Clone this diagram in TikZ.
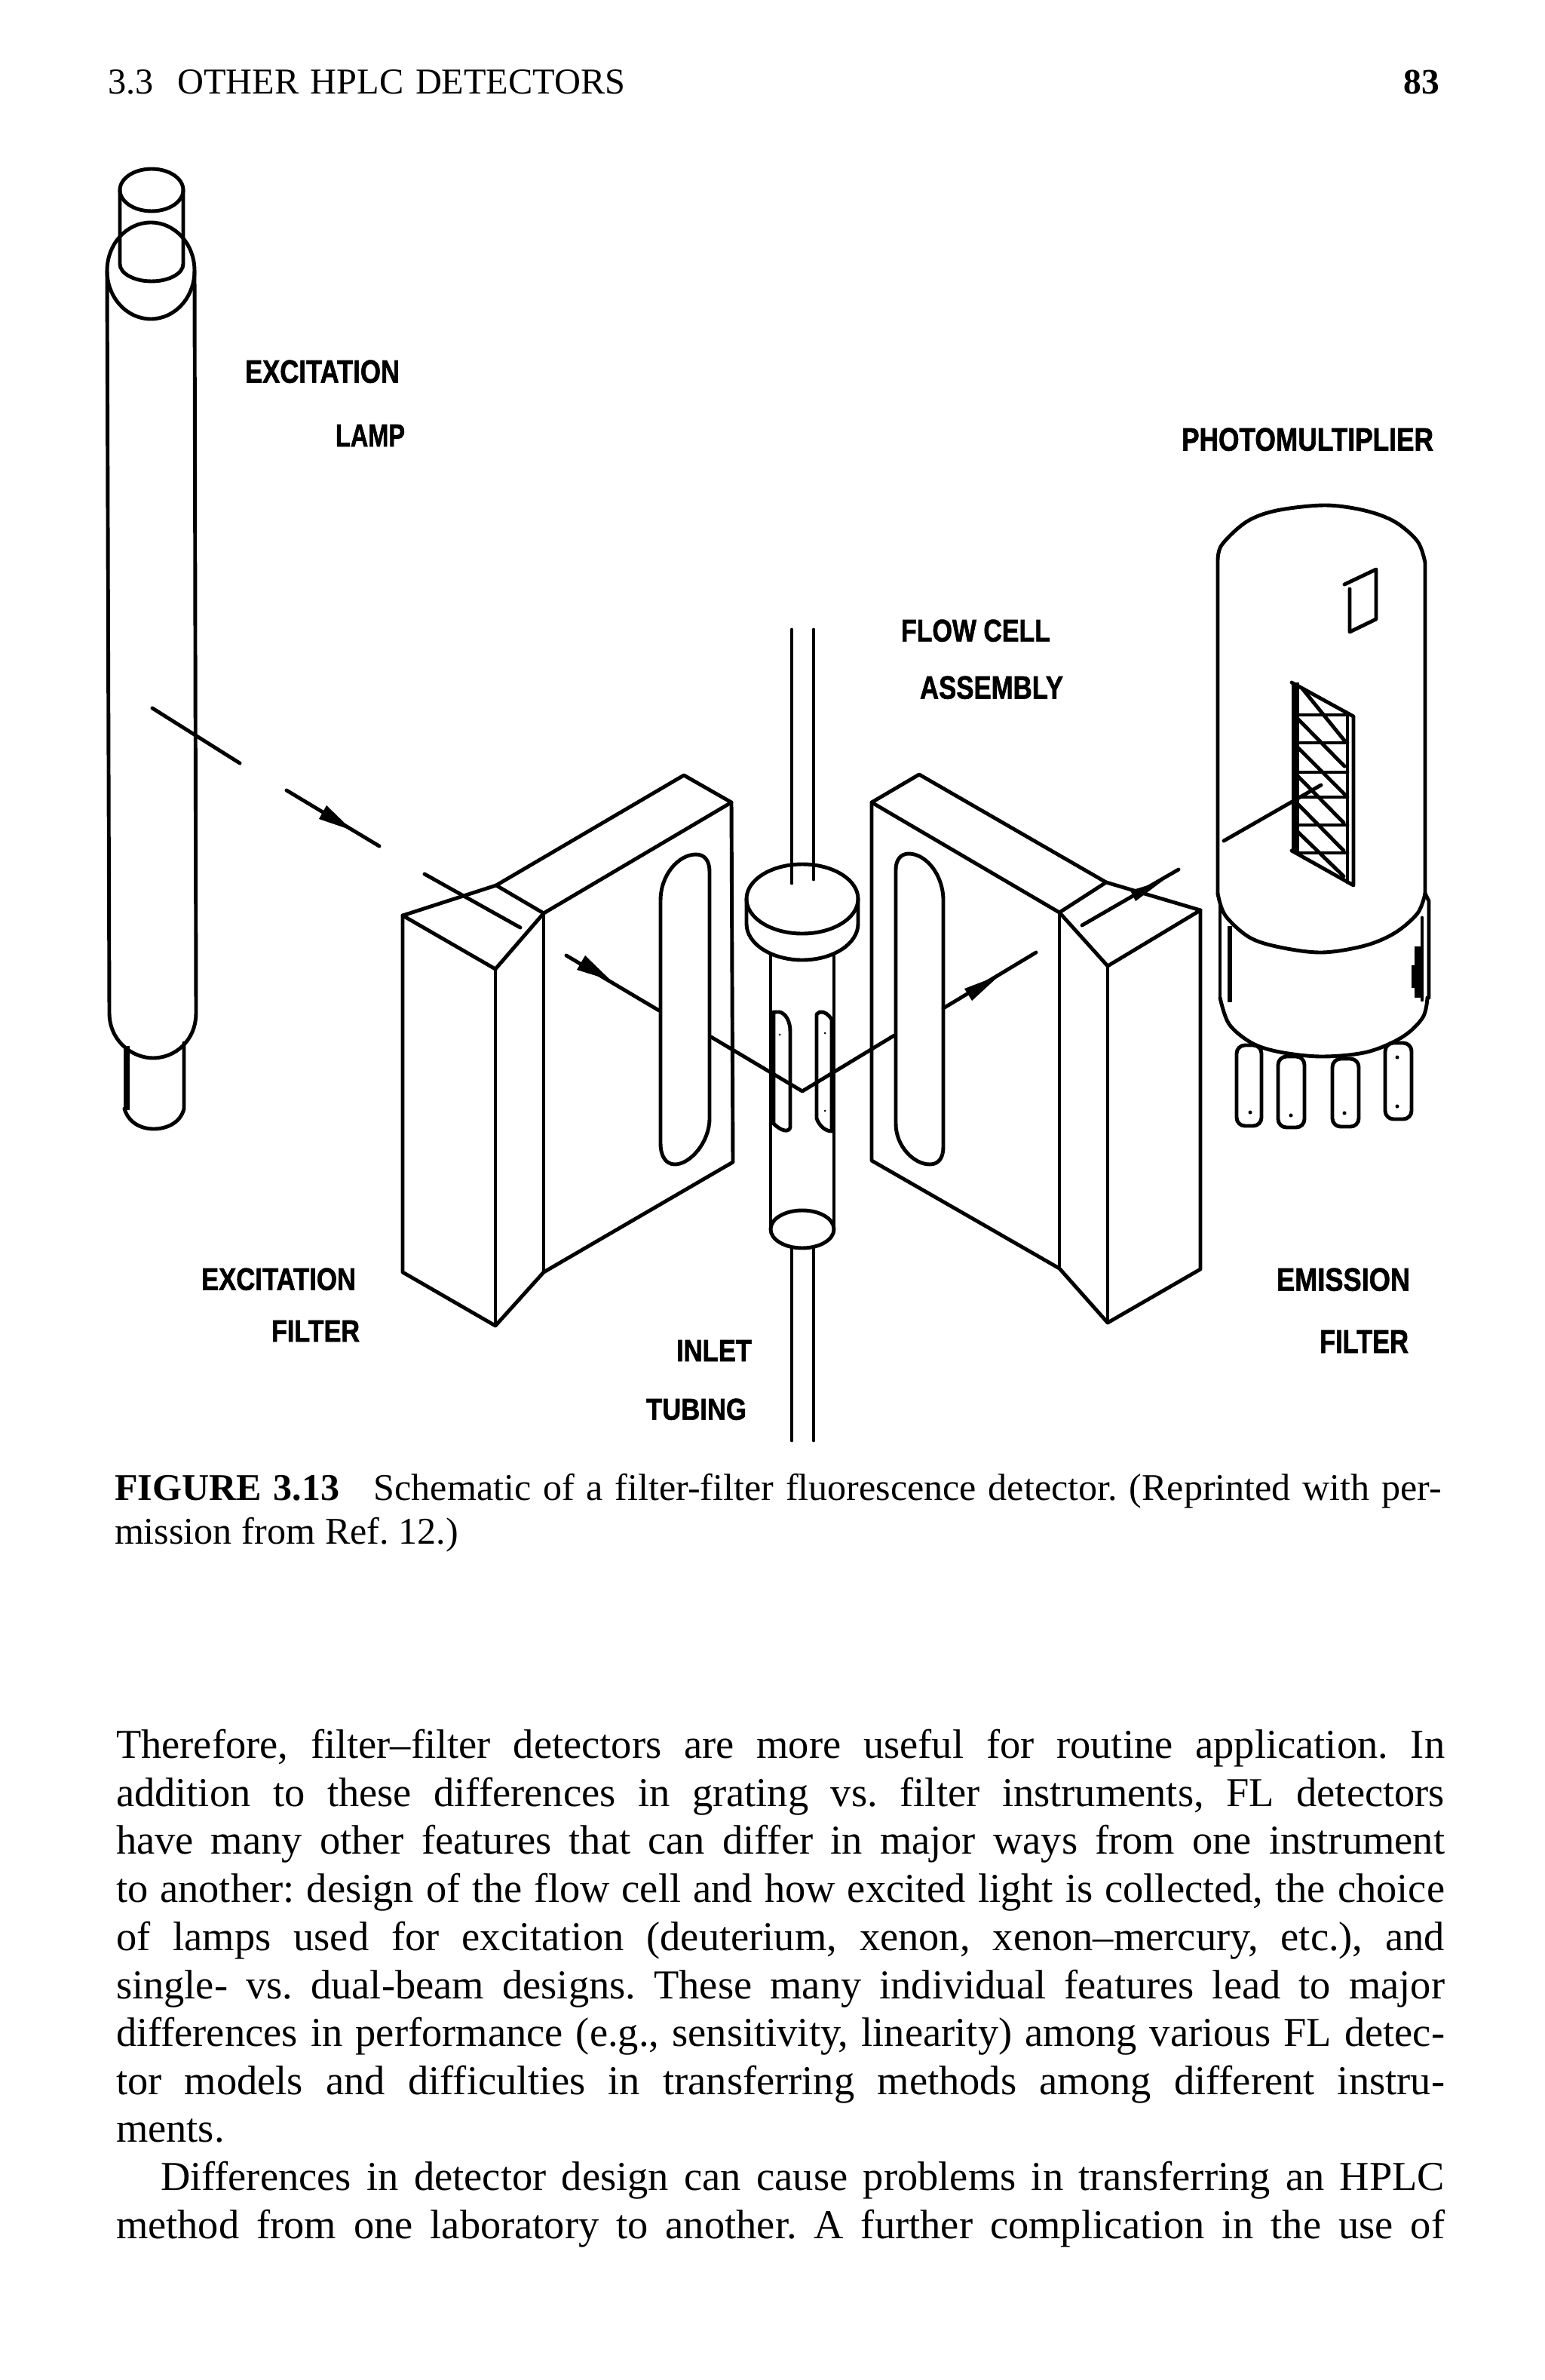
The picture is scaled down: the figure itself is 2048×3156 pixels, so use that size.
\documentclass[tikz,border=0pt]{standalone}
\usepackage{graphicx}
\usepackage{fontspec}
\setmainfont{Liberation Serif}
\newfontfamily\lblf[BoldFeatures={FakeBold=1.6}]{Liberation Sans}
\newlength\px \setlength\px{0.02cm}
\frenchspacing
\tikzset{
  ln/.style={line width=2.8pt,line join=round,line cap=round,black},
  thick band/.style={line width=6pt,black},
  txt/.style={anchor=base west,inner sep=0pt,outer sep=0pt,font=\fontsize{31}{36}\selectfont},
  captxt/.style={anchor=base west,inner sep=0pt,outer sep=0pt,font=\fontsize{28.5}{33}\selectfont},
  lbl/.style={anchor=south west,inner sep=0pt,outer sep=0pt}
}
\newcommand\lab[7]{\node[lbl] (#1) at (#2,#5) {\resizebox{#6\px}{#7\px}{\lblf\bfseries #3}};}
\begin{document}
\begin{tikzpicture}[x=0.02cm,y=-0.02cm]
\useasboundingbox (0,0) rectangle (2048,3156);
\fill[white] (0,0) rectangle (2048,3156);

% header
\node[anchor=base west,inner sep=0pt,font=\fontsize{27.5}{30}\selectfont] (hd) at (143,125) {\makebox[686\px][s]{3.3\hspace{18pt}OTHER HPLC DETECTORS}};
\node[anchor=base west,inner sep=0pt,font=\fontsize{27}{30}\selectfont\bfseries] (pg) at (1861,125) {83};

% lamp
\draw[ln] (201,252) ellipse [x radius=42,y radius=28];
\draw[ln] (159,252) -- (159,350) arc[start angle=180,end angle=0,x radius=42,y radius=23] -- (243,252);
\draw[ln] (200,359) ellipse [x radius=58,y radius=64];
\draw[ln] (142,359) -- (145,1343) .. controls (145,1380) and (175,1403) .. (203,1403) .. controls (232,1403) and (260,1380) .. (260,1343) -- (258,359);
\draw[line width=4.5pt,black] (168,1387) -- (168,1472);
\draw[ln] (244,1383) -- (244,1470) .. controls (240,1488) and (222,1497) .. (204,1497) .. controls (186,1497) and (170,1488) .. (165,1470);

% lamp ray
\coordinate (ra) at (202,939); \coordinate (rb) at (318,1012);
\coordinate (rc) at (380,1048); \coordinate (rd) at (503,1122);
\draw[ln] (ra) -- (rb);
\draw[ln] (rc) -- (rd);
\fill (433,1068) -- (423,1086) -- (467,1101) -- cycle;

% left filter
\coordinate (LA) at (534,1214); \coordinate (LB) at (657,1285); \coordinate (LC) at (721,1211);
\coordinate (LD) at (970,1064); \coordinate (LE) at (907,1028); \coordinate (LF) at (658,1174);
\coordinate (LA2) at (534,1687); \coordinate (LB2) at (657,1758); \coordinate (LC2) at (721,1687);
\coordinate (LD2) at (972,1541);
\draw[ln] (LA) -- (LB) -- (LC) -- (LD) -- (LE) -- (LF) -- cycle;
\draw[ln] (LF) -- (LC);
\draw[ln] (LA) -- (LA2) -- (LB2) -- (LC2) -- (LD2) -- (LD);
\draw[ln] (LB) -- (LB2);
\draw[ln] (LC) -- (LC2);
\draw[ln] (876,1194) .. controls (876,1160) and (900,1133) .. (923,1133) .. controls (935,1133) and (941,1142) .. (941,1156) -- (941,1483) .. controls (941,1515) and (915,1544) .. (895,1544) .. controls (883,1544) and (876,1533) .. (876,1516) -- cycle;
\draw[ln] (563,1159) -- (690,1230);
\coordinate (la1) at (751,1267); \coordinate (la2) at (874,1340);
\draw[ln] (la1) -- (la2);
\fill (776,1267) -- (765,1286) -- (810,1300) -- cycle;

% flow cell
\coordinate (vx) at (1064,1447);
\draw[ln] (943,1375) -- (vx) -- (1186,1373);
\draw[ln] (1050,835) -- (1050,1171);
\draw[ln] (1079,835) -- (1079,1166);
\draw[ln] (1064,1192) ellipse [x radius=74,y radius=46];
\draw[ln] (990,1192) -- (990,1225) arc[start angle=180,end angle=0,x radius=74,y radius=48] -- (1138,1192);
\draw[ln] (1022,1268) -- (1022,1630);
\draw[ln] (1106,1268) -- (1106,1630);
\draw[ln] (1064,1630) ellipse [x radius=42,y radius=25];
\draw[ln] (1050,1656) -- (1050,1910);
\draw[ln] (1079,1656) -- (1079,1910);
\draw[ln] (1026,1490) -- (1026,1342) -- (1034,1342) .. controls (1042,1344) and (1048,1354) .. (1048,1368) -- (1048,1495) .. controls (1046,1502) and (1036,1500) .. (1026,1490);
\draw[ln] (1103,1500) -- (1103,1352) .. controls (1099,1345) and (1093,1341) .. (1087,1342) -- (1083,1345) -- (1083,1483) .. controls (1086,1492) and (1094,1500) .. (1103,1500);
\foreach \a/\b in {1034/1372,1094/1370,1094/1473} \fill (\a,\b) circle[radius=1.5];

% right filter
\coordinate (RA) at (1592,1207); \coordinate (RB) at (1469,1281); \coordinate (RC) at (1405,1210);
\coordinate (RD) at (1156,1064); \coordinate (RE) at (1219,1027); \coordinate (RF) at (1467,1170);
\coordinate (RA2) at (1592,1683); \coordinate (RB2) at (1469,1754); \coordinate (RC2) at (1405,1682);
\coordinate (RD2) at (1156,1539);
\draw[ln] (RA) -- (RB) -- (RC) -- (RD) -- (RE) -- (RF) -- cycle;
\draw[ln] (RF) -- (RC);
\draw[ln] (RA) -- (RA2) -- (RB2) -- (RC2) -- (RD2) -- (RD);
\draw[ln] (RB) -- (RB2);
\draw[ln] (RC) -- (RC2);
\draw[ln] (1188,1153) .. controls (1188,1140) and (1195,1132) .. (1205,1132) .. controls (1228,1132) and (1251,1160) .. (1251,1194) -- (1251,1521) .. controls (1251,1535) and (1245,1544) .. (1233,1544) .. controls (1212,1544) and (1188,1520) .. (1188,1490) -- cycle;
\coordinate (ra1) at (1251,1337); \coordinate (ra2) at (1374,1263);
\draw[ln] (ra1) -- (ra2);
\fill (1279,1311) -- (1289,1327) -- (1326,1293) -- cycle;
\coordinate (rr1) at (1435,1227); \coordinate (rr2) at (1563,1153);
\draw[ln] (rr1) -- (rr2);
\fill (1499,1181) -- (1506,1195) -- (1542,1168) -- cycle;

% photomultiplier
\draw[ln] (1615,1185) -- (1615,746) plot[smooth,tension=.55] coordinates {(1615,746) (1620,723) (1653,692) (1693,677) (1757,670) (1810,677) (1850,692) (1880,718) (1890,746)} -- (1890,1185);
\draw[ln] plot[smooth,tension=.55] coordinates {(1615,1185) (1625,1214) (1657,1243) (1697,1256) (1753,1263) (1810,1254) (1850,1237) (1880,1211) (1890,1185)};
\draw[ln] (1618,1200) -- (1618,1323);
\draw[ln] (1890,1185) -- (1895,1195) -- (1895,1323);
\draw[ln] plot[smooth,tension=.55] coordinates {(1618,1323) (1630,1358) (1660,1383) (1697,1395) (1753,1401) (1813,1395) (1860,1375) (1887,1349) (1893,1323)};
\draw[line width=3.6pt,black] (1631,1228) -- (1631,1329);
\draw[ln] (1886,1217) -- (1886,1326);
\draw[line width=4.5pt,black] (1880,1255) -- (1880,1323);
\draw[line width=3.4pt,black] (1875,1280) -- (1875,1310);
% small window
\draw[ln] (1783,775) -- (1825,755) -- (1825,821) -- (1790,838) -- (1790,781);
% grid
\draw[thick band] (1718,905) -- (1718,1131);
\draw[ln] (1713,905) -- (1795,950) -- (1795,1174) -- (1713,1128);
\draw[ln] (1787,948) -- (1787,1170);
\foreach \y in {948,985,1024,1057,1094,1131} \draw[ln] (1720,\y) -- (1787,\y);
\draw[ln] (1727,913) -- (1783,982);
\draw[ln] (1720,952) -- (1783,1016);
\draw[ln] (1720,990) -- (1783,1053);
\draw[ln] (1720,1028) -- (1782,1091);
\draw[ln] (1720,1065) -- (1782,1128);
\draw[ln] (1720,1102) -- (1782,1162);
\coordinate (g1) at (1623,1115); \coordinate (g2) at (1712,1064); \coordinate (g3) at (1752,1041);
\draw[ln] (g1) -- (g2) -- (g3);
% pins
\begin{scope}[rounded corners=11\px]
\draw[ln] (1640,1386) -- (1673,1386) -- (1673,1493) -- (1640,1493) -- cycle;
\draw[ln] (1695,1401) -- (1730,1401) -- (1730,1495) -- (1695,1495) -- cycle;
\draw[ln] (1767,1404) -- (1802,1404) -- (1802,1494) -- (1767,1494) -- cycle;
\draw[ln] (1837,1383) -- (1872,1383) -- (1872,1484) -- (1837,1484) -- cycle;
\end{scope}
\foreach \a/\b in {1658/1475,1712/1479,1783/1476,1853/1467,1853/1402} \fill (\a,\b) circle[radius=2.5];

% labels
\lab{a1}{325}{EXCITATION}{}{508}{205}{30}
\lab{a2}{445}{LAMP}{}{592}{92}{29}
\lab{a3}{1567}{PHOTOMULTIPLIER}{}{598}{334}{30}
\lab{a4}{1195}{FLOW CELL}{}{851}{198}{29}
\lab{a5}{1220}{ASSEMBLY}{}{927}{190}{30}
\lab{a6}{267}{EXCITATION}{}{1711}{205}{29}
\lab{a7}{360}{FILTER}{}{1779}{117}{28}
\lab{a8}{897}{INLET}{}{1805}{100}{28}
\lab{a9}{857}{TUBING}{}{1883}{133}{28}
\lab{a10}{1693}{EMISSION}{}{1712}{177}{30}
\lab{a11}{1750}{FILTER}{}{1794}{118}{30}

% caption
\node[captxt] (c1) at (152,1989) {\makebox[1760\px][s]{\textbf{FIGURE 3.13}\hspace{26pt}Schematic of a filter-filter fluorescence detector. (Reprinted with per-}};
\node[captxt] (c2) at (152,2047) {\makebox[456\px][s]{mission from Ref. 12.)}};

% body
\node[txt] (b1) at (154,2331) {\makebox[1762\px][s]{Therefore, filter–filter detectors are more useful for routine application. In}};
\node[txt] (b2) at (154,2395) {\makebox[1762\px][s]{addition to these differences in grating vs. filter instruments, FL detectors}};
\node[txt] (b3) at (154,2458) {\makebox[1762\px][s]{have many other features that can differ in major ways from one instrument}};
\node[txt] (b4) at (154,2522) {\makebox[1762\px][s]{to another: design of the flow cell and how excited light is collected, the choice}};
\node[txt] (b5) at (154,2586) {\makebox[1762\px][s]{of lamps used for excitation (deuterium, xenon, xenon–mercury, etc.), and}};
\node[txt] (b6) at (154,2650) {\makebox[1762\px][s]{single- vs. dual-beam designs. These many individual features lead to major}};
\node[txt] (b7) at (154,2713) {\makebox[1762\px][s]{differences in performance (e.g., sensitivity, linearity) among various FL detec-}};
\node[txt] (b8) at (154,2777) {\makebox[1762\px][s]{tor models and difficulties in transferring methods among different instru-}};
\node[txt] (b9) at (154,2840) {ments.};
\node[txt] (b10) at (213,2904) {\makebox[1703\px][s]{Differences in detector design can cause problems in transferring an HPLC}};
\node[txt] (b11) at (154,2968) {\makebox[1762\px][s]{method from one laboratory to another. A further complication in the use of}};
\end{tikzpicture}
\end{document}
